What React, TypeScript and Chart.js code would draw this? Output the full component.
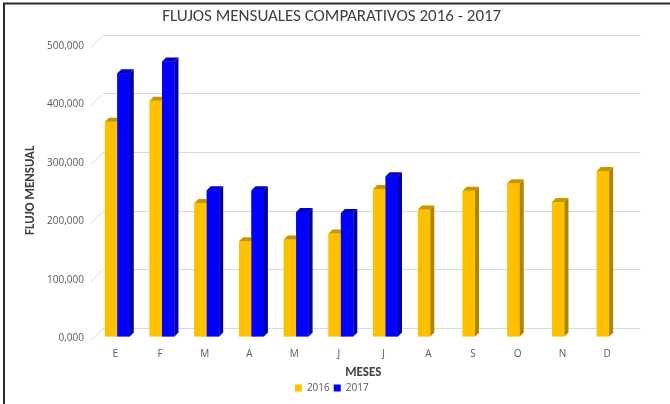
import React, { useEffect, useRef } from "react";
import { Chart, registerables } from "chart.js";

Chart.register(...registerables);

const months = ["E", "F", "M", "A", "M", "J", "J", "A", "S", "O", "N", "D"];
const values2016 = [367000, 403000, 228000, 163000, 166000, 176000, 252000, 217000, 249000, 262000, 230000, 283000];
const values2017 = [450000, 470000, 250000, 250000, 213000, 211000, 274000, null, null, null, null, null];
const seriesNames = ["2016", "2017"];
const yTickValues = [0, 100000, 200000, 300000, 400000, 500000];
const yTickLabels = ["0,000", "100,000", "200,000", "300,000", "400,000", "500,000"];

const FONT = "Carlito, Calibri, Lato, 'Open Sans', sans-serif";
const TICKFONT = "'Open Sans', sans-serif";
const frontColors = ["#FFC000", "#0000FF"];
const topColors = ["#C79600", "#0000C8"];
const sideColors = ["#B08400", "#0000A0"];
const DEPTH = 4;

const framePlugin = {
  id: "frame",
  beforeDraw(chart: any) {
    const ctx = chart.ctx;
    ctx.save();
    ctx.fillStyle = "#FFFFFF";
    ctx.fillRect(0, 0, chart.width, chart.height);
    ctx.strokeStyle = "#2B2B2B";
    ctx.lineWidth = 2;
    ctx.beginPath();
    ctx.moveTo(4, chart.height);
    ctx.lineTo(4, 3.5);
    ctx.lineTo(chart.width, 3.5);
    ctx.stroke();
    ctx.restore();
  },
  beforeDatasetsDraw(chart: any) {
    const ctx = chart.ctx;
    const ys = chart.scales.y;
    const right = chart.chartArea.right + 9;
    ctx.save();
    ctx.strokeStyle = "#D9D9D9";
    ctx.lineWidth = 1;
    yTickValues.forEach((v) => {
      const y = Math.round(ys.getPixelForValue(v)) + 0.5;
      ctx.beginPath();
      ctx.moveTo(91, y + 3);
      ctx.lineTo(103, y - 9);
      ctx.lineTo(right, y - 9);
      ctx.stroke();
    });
    ctx.restore();
  },
  afterDatasetsDraw(chart: any) {
    const ctx = chart.ctx;
    ctx.save();
    chart.data.datasets.forEach((ds: any, di: number) => {
      const meta = chart.getDatasetMeta(di);
      meta.data.forEach((bar: any, i: number) => {
        if (ds.data[i] == null) return;
        bar.draw(ctx);
        const { x, y, base, width } = bar.getProps(["x", "y", "base", "width"], true);
        const x0 = x - width / 2;
        const x1 = x + width / 2;
        ctx.fillStyle = topColors[di];
        ctx.beginPath();
        ctx.moveTo(x0, y);
        ctx.lineTo(x0 + DEPTH, y - DEPTH);
        ctx.lineTo(x1 + DEPTH, y - DEPTH);
        ctx.lineTo(x1, y);
        ctx.closePath();
        ctx.fill();
        ctx.fillStyle = sideColors[di];
        ctx.beginPath();
        ctx.moveTo(x1, y);
        ctx.lineTo(x1 + DEPTH, y - DEPTH);
        ctx.lineTo(x1 + DEPTH, base - DEPTH);
        ctx.lineTo(x1, base);
        ctx.closePath();
        ctx.fill();
      });
    });
    ctx.restore();
  },
};

export default function App() {
  const ref = useRef<HTMLCanvasElement | null>(null);
  useEffect(() => {
    if (!ref.current) return;
    const chart = new Chart(ref.current, {
      type: "bar",
      data: {
        labels: months,
        datasets: [
          { label: seriesNames[0], data: values2016, backgroundColor: frontColors[0], borderWidth: 0 },
          { label: seriesNames[1], data: values2017, backgroundColor: frontColors[1], borderWidth: 0 },
        ],
      },
      options: {
        responsive: false,
        animation: false,
        devicePixelRatio: 1,
        layout: { padding: { left: 32, right: 38.5, top: 0, bottom: 1 } },
        datasets: { bar: { categoryPercentage: 0.555, barPercentage: 1 } },
        plugins: {
          title: {
            display: true,
            text: "FLUJOS MENSUALES COMPARATIVOS 2016 - 2017",
            color: "#404040",
            font: { family: FONT, size: 17, weight: "normal" },
            padding: { top: 7, bottom: 16.6 },
          },
          legend: {
            position: "bottom",
            labels: {
              color: "#595959",
              font: { family: TICKFONT, size: 10 },
              boxWidth: 7,
              boxHeight: 7,
              padding: 4,
            },
          },
          tooltip: { enabled: false },
        },
        scales: {
          x: {
            grid: { display: false, drawTicks: false },
            border: { display: false },
            ticks: { color: "#595959", font: { family: TICKFONT, size: 10 }, padding: 12, labelOffset: -2 },
            title: {
              display: true,
              text: "MESES",
              color: "#404040",
              font: { family: FONT, size: 13, weight: "bold" },
              padding: { top: 0, bottom: -2 },
            },
            afterFit: (s: any) => {
              s.height = 42.5;
            },
          },
          y: {
            min: 0,
            max: 500000,
            grid: { display: false, drawTicks: false },
            border: { display: false },
            afterBuildTicks: (s: any) => {
              s.ticks = yTickValues.map((v) => ({ value: v }));
            },
            ticks: {
              color: "#595959",
              font: { family: TICKFONT, size: 10 },
              padding: 11,
              labelOffset: 2,
              callback: (_v: any, idx: number) => yTickLabels[idx],
            },
            title: {
              display: true,
              text: "FLUJO MENSUAL",
              color: "#404040",
              font: { family: FONT, size: 13, weight: "bold" },
              padding: { top: -9, bottom: 0 },
            },
            afterFit: (s: any) => {
              s.width = 63;
            },
          },
        },
      },
      plugins: [framePlugin],
    });
    return () => chart.destroy();
  }, []);
  return (
    <div style={{ position: "absolute", left: 0, top: 0, width: 670, height: 404 }}>
      <canvas ref={ref} width={670} height={404} style={{ display: "block" }} />
    </div>
  );
}
